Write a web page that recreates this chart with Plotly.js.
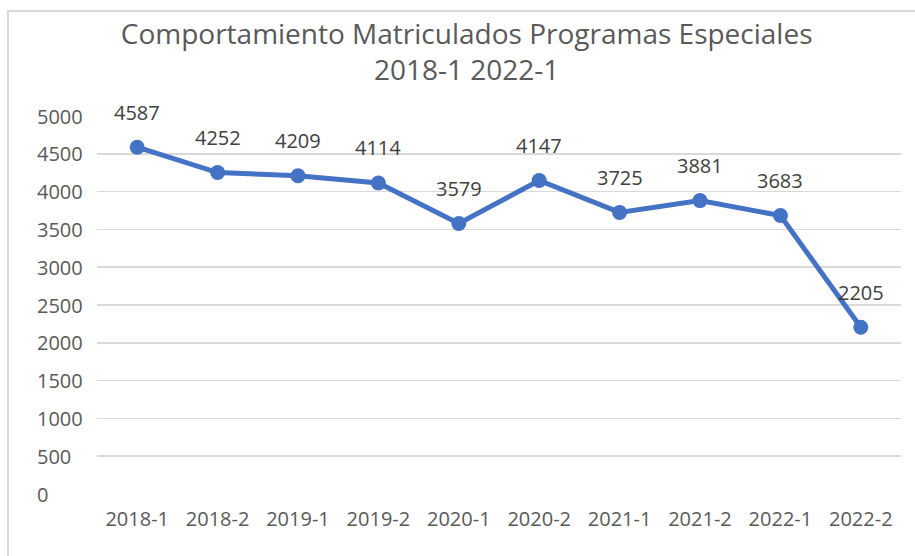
<!DOCTYPE html>
<html><head><meta charset="utf-8">
<script src="https://cdn.plot.ly/plotly-3.0.1.min.js"></script>
<style>
body{margin:0;padding:0;background:#fff;}
#frame{position:absolute;left:7px;top:10px;width:1000px;height:1000px;border:2px solid #d9d9d9;box-sizing:border-box;}
#chart{position:absolute;left:0;top:0;width:915px;height:556px;}
</style></head>
<body>
<div id="frame"></div>
<div id="chart"></div>
<script>
const periods = ["2018-1","2018-2","2019-1","2019-2","2020-1","2020-2","2021-1","2021-2","2022-1","2022-2"];
const enrolled = [4587,4252,4209,4114,3579,4147,3725,3881,3683,2205];
const yTicks = [0,500,1000,1500,2000,2500,3000,3500,4000,4500,5000];

const font = "'Open Sans', sans-serif";
const trace = {
  x: periods, y: enrolled, type: "scatter", mode: "lines+markers",
  line: {color: "#4472C4", width: 5},
  marker: {color: "#4472C4", size: 15},
  cliponaxis: false, hoverinfo: "none"
};
const annotations = periods.map((p, i) => ({
  x: p, y: enrolled[i], text: String(enrolled[i]), showarrow: false,
  yshift: 35, font: {family: font, size: 20, color: "#404040"}
}));
yTicks.forEach(v => annotations.push({
  xref: "paper", x: (35 - 97) / 804, xanchor: "left", yref: "y", y: v,
  text: String(v), showarrow: false, align: "left",
  font: {family: font, size: 20, color: "#595959"}
}));
const layout = {
  width: 915, height: 556,
  margin: {l: 97, r: 14, t: 116, b: 62},
  paper_bgcolor: "rgba(0,0,0,0)", plot_bgcolor: "rgba(0,0,0,0)",
  title: {text: "Comportamiento Matriculados Programas Especiales<br>2018-1 2022-1",
    font: {family: font, size: 28, color: "#595959"},
    x: 0.51, xanchor: "center", yref: "container", y: 1 - 44 / 556, yanchor: "middle"},
  xaxis: {type: "category", range: [-0.5, periods.length - 0.5], showgrid: false, zeroline: false,
    showline: false, ticks: "",
    tickfont: {family: font, size: 20, color: "#595959"}, ticklabelstandoff: 11},
  yaxis: {range: [0, 5000], tickvals: yTicks, showticklabels: false, showgrid: true,
    gridcolor: "#d9d9d9", gridwidth: 1.5, zeroline: false, showline: false, ticks: ""},
  showlegend: false,
  annotations: annotations
};
Plotly.newPlot("chart", [trace], layout, {displayModeBar: false, staticPlot: true});
</script>
</body></html>
